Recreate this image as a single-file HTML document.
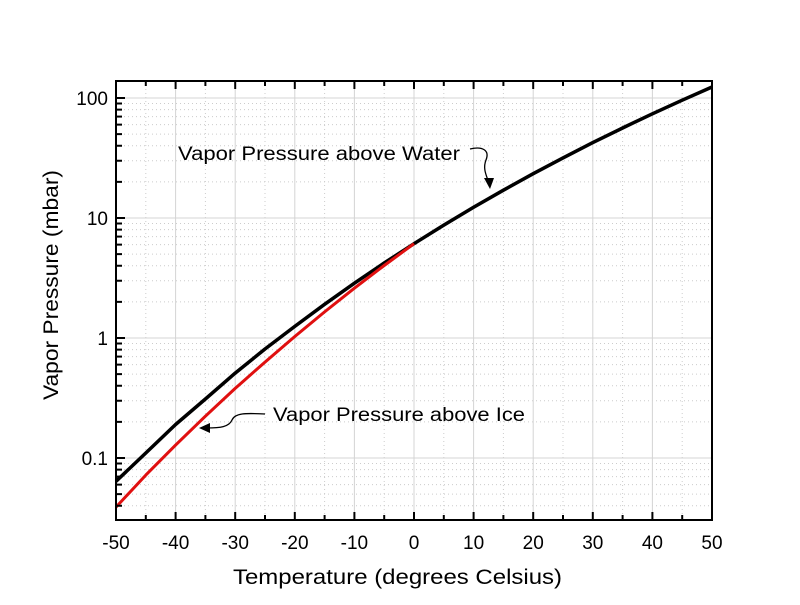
<!DOCTYPE html>
<html><head><meta charset="utf-8"><style>
body{margin:0;background:#fff}
svg text{font-family:"Liberation Sans",Arial,sans-serif;fill:#000}
</style></head><body>
<svg id="c" width="800" height="600" xmlns="http://www.w3.org/2000/svg">
<g id="grid"></g>
<g id="series"></g>
<rect x="116" y="81" width="596" height="439" fill="none" stroke="#000" stroke-width="2"/>
<g id="ticks"></g>
<text x="178" y="160" font-size="19" textLength="282" lengthAdjust="spacingAndGlyphs">Vapor Pressure above Water</text>
<path d="M470,149 C482,146 490,150 486,160 C482,170 488,178 489,184" fill="none" stroke="#000" stroke-width="1.3"/>
<path d="M484,178 L490,189 L494,178 Z" fill="#000"/>
<text x="273" y="421" font-size="19" textLength="252" lengthAdjust="spacingAndGlyphs">Vapor Pressure above Ice</text>
<path d="M265,414 C245,413 235,413 232,420 C229,427 220,428 207,428" fill="none" stroke="#000" stroke-width="1.3"/>
<path d="M210,423 L199,428 L210,433 Z" fill="#000"/>
<text x="233" y="584" font-size="21" textLength="329" lengthAdjust="spacingAndGlyphs">Temperature (degrees Celsius)</text>
<text transform="translate(58,400) rotate(-90)" font-size="21" textLength="230" lengthAdjust="spacingAndGlyphs">Vapor Pressure (mbar)</text>
</svg>
<script>
const temps = [-50,-45,-40,-35,-30,-25,-20,-15,-10,-5,0,5,10,15,20,25,30,35,40,45,50];
const waterP = [0.064,0.11,0.19,0.31,0.51,0.81,1.25,1.91,2.86,4.22,6.11,8.72,12.28,17.04,23.39,31.7,42.46,56.2,73.8,95.9,123.4];
const iceTemps = [-50,-45,-40,-35,-30,-25,-20,-15,-10,-5,0];
const iceP = [0.039,0.072,0.128,0.223,0.38,0.63,1.03,1.65,2.6,4.02,6.11];
const xTicks = [-50,-40,-30,-20,-10,0,10,20,30,40,50];
const yTicks = [0.1,1,10,100];
const yTickLabels = ["0.1","1","10","100"];
const NS="http://www.w3.org/2000/svg";
const X0=116,X1=712,Yb=520,Yt=81;
const xs=t=>X0+(t+50)/100*(X1-X0);
const ys=v=>338-120*Math.log10(v);
function mk(tag,attrs,parent){const e=document.createElementNS(NS,tag);for(const k in attrs)e.setAttribute(k,attrs[k]);document.getElementById(parent).appendChild(e);return e;}
for(let t=-45;t<=45;t+=10){const e=mk('line',{x1:xs(t),x2:xs(t),y1:Yt,y2:Yb,stroke:'#ccc','stroke-dasharray':'1,3'},'grid');

}
for(let d=-2;d<=2;d++)for(let m=2;m<=9;m++){const v=m*Math.pow(10,d);const y=ys(v);if(y<Yt||y>Yb)continue;
const e=mk('line',{x1:X0,x2:X1,y1:y,y2:y,stroke:'#ccc','stroke-dasharray':'1,3'},'grid');


const tk=mk('line',{x1:X0,x2:X0+6,y1:y,y2:y,stroke:'#000','stroke-width':2},'ticks');

}
xTicks.forEach(t=>{const x=xs(t);
const g=mk('line',{x1:x,x2:x,y1:Yt,y2:Yb,stroke:'#d4d4d4'},'grid');


const a=mk('line',{x1:x,x2:x,y1:Yb,y2:Yb-8,stroke:'#000','stroke-width':2},'ticks');


const b=mk('line',{x1:x,x2:x,y1:Yt,y2:Yt+8,stroke:'#000','stroke-width':2},'ticks');


const l=mk('text',{x:x,y:549,'font-size':19,'text-anchor':'middle'},'ticks');l.textContent=t;

});
for(let t=-45;t<=45;t+=10){const x=xs(t);
const a=mk('line',{x1:x,x2:x,y1:Yb,y2:Yb-5,stroke:'#000','stroke-width':2},'ticks');


const b=mk('line',{x1:x,x2:x,y1:Yt,y2:Yt+5,stroke:'#000','stroke-width':2},'ticks');

}
yTicks.forEach((v,i)=>{const y=ys(v);
const g=mk('line',{x1:X0,x2:X1,y1:y,y2:y,stroke:'#d4d4d4'},'grid');


const a=mk('line',{x1:X0,x2:X0+9,y1:y,y2:y,stroke:'#000','stroke-width':2},'ticks');


const l=mk('text',{x:X0-8,y:y+7,'font-size':19,'text-anchor':'end'},'ticks');l.textContent=yTickLabels[i];

});
function path(tt,pp){return tt.map((t,i)=>(i?'L':'M')+xs(t).toFixed(1)+','+ys(pp[i]).toFixed(1)).join(' ');}
const w=mk('path',{d:path(temps,waterP),fill:'none',stroke:'#000','stroke-width':3.5,'stroke-linejoin':'round'},'series');


const ic=mk('path',{d:path(iceTemps,iceP),fill:'none',stroke:'#e01010','stroke-width':3,'stroke-linejoin':'round'},'series');


</script>
</body></html>
